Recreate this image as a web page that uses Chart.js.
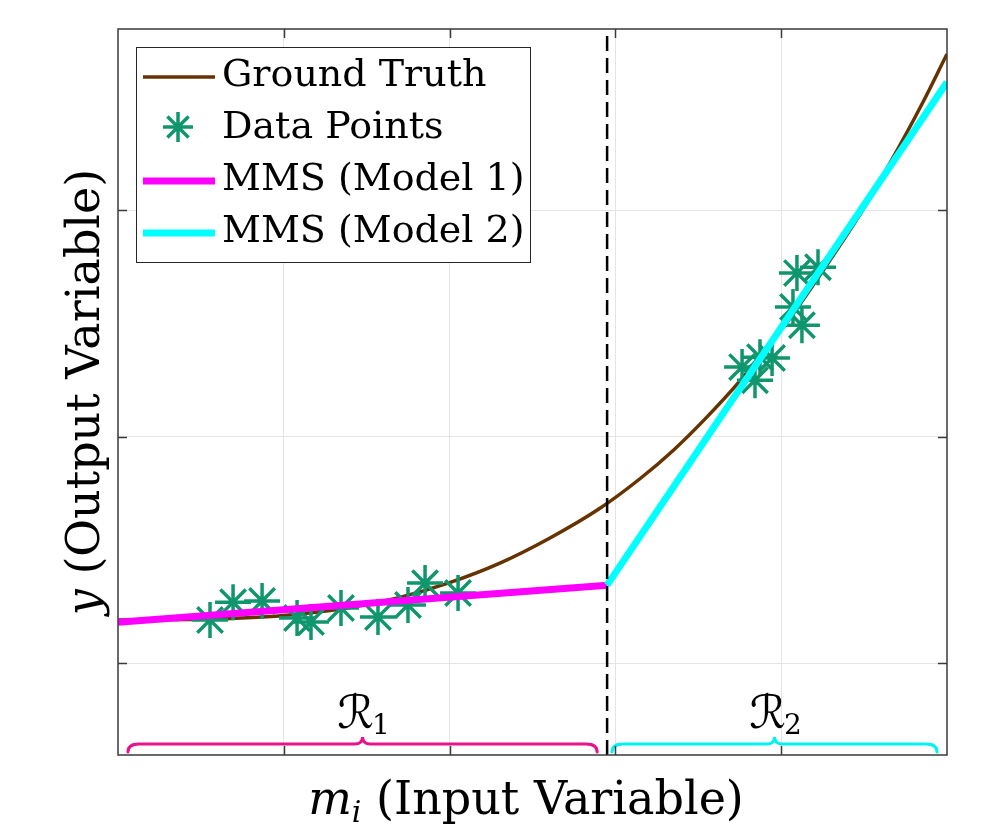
<!DOCTYPE html>
<html>
<head>
<meta charset="utf-8">
<style>
html,body{margin:0;padding:0;background:#ffffff;}
#wrap{width:981px;height:827px;position:relative;}
</style>
<script src="https://cdn.jsdelivr.net/npm/chart.js@4.4.1/dist/chart.umd.min.js"></script>
</head>
<body>
<div id="wrap"><canvas id="c" width="981" height="827"></canvas></div>
<script>
// ---------------- data ----------------
const seriesLabels = ['Ground Truth', 'Data Points', 'MMS (Model 1)', 'MMS (Model 2)'];

const groundTruthX = [0, 0.5, 1.0, 1.4, 1.7, 2.0, 2.3, 2.6, 2.9, 3.15, 3.35, 3.55, 3.75, 4.05, 4.3, 4.5, 4.65, 4.85, 5.0];
const groundTruthY = [1.190, 1.193, 1.210, 1.245, 1.290, 1.355, 1.440, 1.550, 1.680, 1.815, 1.940, 2.085, 2.245, 2.520, 2.785, 3.010, 3.200, 3.470, 3.690];

const dataPointsX = [0.555, 0.694, 0.869, 1.080, 1.164, 1.345, 1.568, 1.749, 1.852, 2.051,
                     3.764, 3.842, 3.872, 3.945, 4.071, 4.125, 4.095, 4.222];
const dataPointsY = [1.190, 1.269, 1.274, 1.199, 1.181, 1.243, 1.203, 1.256, 1.353, 1.309,
                     2.307, 2.249, 2.351, 2.347, 2.572, 2.492, 2.722, 2.748];

const model1X = [0, 2.95];
const model1Y = [1.180, 1.344];
const model2X = [2.95, 5.0];
const model2Y = [1.344, 3.565];

const splitX = 2.95;

const xRange = [0, 5];
const yRange = [0.594, 3.80];
const xTickValues = [1, 2, 3, 4];
const yTickValues = [1, 2, 3];
const xTickLabels = ['', '', '', ''];   // the figure shows no tick labels
const yTickLabels = ['', '', ''];

const regionNames = ['\u211B', '\u211B'];
const regionSubs = ['1', '2'];
const regionFrom = [0.06, 2.98];
const regionTo = [2.89, 4.94];

// ---------------- styles ----------------
const SERIF = "'DejaVu Serif', 'Liberation Serif', serif";
const C_GT = '#663300';
const C_PTS = 'rgb(16,150,108)';
const C_M1 = '#ff00ff';
const C_M2 = '#00ffff';
const C_BRACE = ['#e8138c', '#00f2f2'];
const C_AXIS = '#3a3a3a';

const zip = (xs, ys) => xs.map((x, i) => ({x: x, y: ys[i]}));

function drawStar(ctx, x, y, r) {
  ctx.beginPath();
  for (let k = 0; k < 4; k++) {
    const a = k * Math.PI / 4;
    const dx = Math.cos(a) * r, dy = Math.sin(a) * r;
    ctx.moveTo(x - dx, y - dy);
    ctx.lineTo(x + dx, y + dy);
  }
  ctx.stroke();
}

const framePlugin = {
  id: 'frame',
  afterDatasetsDraw(chart) {
    const ctx = chart.ctx, a = chart.chartArea;
    const xs = chart.scales.x;
    // region braces and labels
    for (let i = 0; i < regionFrom.length; i++) {
      const x0 = xs.getPixelForValue(regionFrom[i]);
      const x1 = xs.getPixelForValue(regionTo[i]);
      const mid = (x0 + x1) / 2;
      const yEnd = a.bottom - 3, yMain = a.bottom - 11, yTip = a.bottom - 18;
      const r = 11, rm = 8;
      ctx.save();
      ctx.strokeStyle = C_BRACE[i];
      ctx.lineWidth = 3;
      ctx.lineCap = 'round';
      ctx.beginPath();
      ctx.moveTo(x0, yEnd);
      ctx.quadraticCurveTo(x0, yMain, x0 + r, yMain);
      ctx.lineTo(mid - rm, yMain);
      ctx.quadraticCurveTo(mid, yMain, mid, yTip);
      ctx.quadraticCurveTo(mid, yMain, mid + rm, yMain);
      ctx.lineTo(x1 - r, yMain);
      ctx.quadraticCurveTo(x1, yMain, x1, yEnd);
      ctx.stroke();
      // label
      ctx.fillStyle = '#000';
      ctx.textBaseline = 'alphabetic';
      ctx.textAlign = 'left';
      const fR = "italic 46px 'DejaVu Serif', 'DejaVu Sans', serif";
      const fS = "28px 'DejaVu Serif', serif";
      ctx.font = fR;
      const wR = ctx.measureText(regionNames[i]).width;
      ctx.font = fS;
      const wS = ctx.measureText(regionSubs[i]).width;
      const sx = mid - (wR + wS) / 2 + 2;
      ctx.font = fR;
      ctx.fillText(regionNames[i], sx, a.bottom - 27);
      ctx.font = fS;
      ctx.fillText(regionSubs[i], sx + wR - 2, a.bottom - 21);
      ctx.restore();
    }

    // legend
    const L = a.left + 18, T = a.top + 18, W = 394, H = 215;
    ctx.save();
    ctx.fillStyle = '#ffffff';
    ctx.fillRect(L, T, W, H);
    ctx.strokeStyle = '#262626';
    ctx.lineWidth = 1;
    ctx.strokeRect(L + 0.5, T + 0.5, W, H);
    const ds = chart.data.datasets.filter(d => d.inLegend);
    ds.forEach((d, i) => {
      const base = T + 39 + i * 52;
      if (d.isPoints) {
        ctx.strokeStyle = d.borderColor;
        ctx.lineWidth = d.borderWidth;
        drawStar(ctx, L + 42, base - 11, 15);
      } else {
        ctx.strokeStyle = d.borderColor;
        ctx.lineWidth = d.borderWidth;
        ctx.beginPath();
        ctx.moveTo(L + 7, base - 9);
        ctx.lineTo(L + 79, base - 9);
        ctx.stroke();
      }
      ctx.fillStyle = '#000';
      ctx.font = '38px ' + SERIF;
      ctx.textBaseline = 'alphabetic';
      ctx.textAlign = 'left';
      ctx.fillText(d.label, L + 86, base);
    });
    ctx.restore();
  },
  afterDraw(chart) {
    const ctx = chart.ctx, a = chart.chartArea;
    const xs = chart.scales.x, ys = chart.scales.y;
    ctx.save();
    // inside ticks
    ctx.strokeStyle = C_AXIS;
    ctx.lineWidth = 1.5;
    ctx.beginPath();
    xTickValues.forEach(v => {
      const px = Math.round(xs.getPixelForValue(v)) + 0.5;
      ctx.moveTo(px, a.bottom); ctx.lineTo(px, a.bottom - 9);
      ctx.moveTo(px, a.top); ctx.lineTo(px, a.top + 9);
    });
    yTickValues.forEach(v => {
      const py = Math.round(ys.getPixelForValue(v)) + 0.5;
      ctx.moveTo(a.left, py); ctx.lineTo(a.left + 9, py);
      ctx.moveTo(a.right, py); ctx.lineTo(a.right - 9, py);
    });
    ctx.stroke();
    // box
    ctx.lineWidth = 1.5;
    ctx.strokeRect(a.left, a.top, a.right - a.left, a.bottom - a.top);

    // axis titles
    ctx.fillStyle = '#000';
    ctx.textBaseline = 'alphabetic';
    ctx.textAlign = 'left';
    const fIt = 'italic 46px ' + SERIF, fUp = '46px ' + SERIF, fSub = 'italic 30px ' + SERIF;
    ctx.font = fIt; const wm = ctx.measureText('m').width;
    ctx.font = fSub; const wi = ctx.measureText('i').width;
    ctx.font = fUp; const wx = ctx.measureText(' (Input Variable)').width;
    const sx = 526 - (wm + wi + wx) / 2;
    const bx = 814;
    ctx.font = fIt; ctx.fillText('m', sx, bx);
    ctx.font = fSub; ctx.fillText('i', sx + wm, bx + 8);
    ctx.font = fUp; ctx.fillText(' (Input Variable)', sx + wm + wi, bx);
    // y title
    ctx.translate(99, (a.top + a.bottom) / 2);
    ctx.rotate(-Math.PI / 2);
    ctx.font = fIt; const wy = ctx.measureText('y').width;
    ctx.font = fUp; const wr = ctx.measureText(' (Output Variable)').width;
    const sy = -(wy + wr) / 2;
    ctx.font = fIt; ctx.fillText('y', sy, 0);
    ctx.font = fUp; ctx.fillText(' (Output Variable)', sy + wy, 0);
    ctx.restore();
  }
};

const chart = new Chart(document.getElementById('c'), {
  type: 'scatter',
  data: {
    datasets: [
      {
        label: seriesLabels[0], inLegend: true,
        data: zip(groundTruthX, groundTruthY),
        showLine: true, borderColor: C_GT, borderWidth: 3.5,
        pointRadius: 0, cubicInterpolationMode: 'monotone', order: 5
      },
      {
        label: seriesLabels[1], inLegend: true, isPoints: true,
        data: zip(dataPointsX, dataPointsY),
        showLine: false, pointStyle: 'star', pointRadius: 18,
        borderColor: C_PTS, pointBorderColor: C_PTS, borderWidth: 3.5, pointBorderWidth: 3.5,
        order: 4
      },
      {
        label: seriesLabels[2], inLegend: true,
        data: zip(model1X, model1Y),
        showLine: true, borderColor: C_M1, borderWidth: 7, pointRadius: 0, order: 3
      },
      {
        label: seriesLabels[3], inLegend: true,
        data: zip(model2X, model2Y),
        showLine: true, borderColor: C_M2, borderWidth: 7, pointRadius: 0, order: 2
      },
      {
        label: 'split', inLegend: false,
        data: [{x: splitX, y: yRange[0]}, {x: splitX, y: yRange[1]}],
        showLine: true, borderColor: '#000', borderWidth: 2.5, borderDash: [15, 7],
        pointRadius: 0, order: 1
      }
    ]
  },
  options: {
    responsive: false,
    devicePixelRatio: 1,
    animation: false,
    layout: { padding: { left: 118, right: 34, top: 29, bottom: 72 } },
    plugins: { legend: { display: false }, tooltip: { enabled: false } },
    scales: {
      x: {
        type: 'linear', min: xRange[0], max: xRange[1],
        afterBuildTicks: s => { s.ticks = xTickValues.map((v, i) => ({ value: v, label: xTickLabels[i] })); },
        afterFit: s => { s.height = 0; },
        ticks: { display: false },
        grid: { color: '#e4e4e4', lineWidth: 1, drawTicks: false },
        border: { display: false }
      },
      y: {
        type: 'linear', min: yRange[0], max: yRange[1],
        afterBuildTicks: s => { s.ticks = yTickValues.map((v, i) => ({ value: v, label: yTickLabels[i] })); },
        afterFit: s => { s.width = 0; },
        ticks: { display: false },
        grid: { color: '#e4e4e4', lineWidth: 1, drawTicks: false },
        border: { display: false }
      }
    }
  },
  plugins: [framePlugin]
});
</script>
</body>
</html>
